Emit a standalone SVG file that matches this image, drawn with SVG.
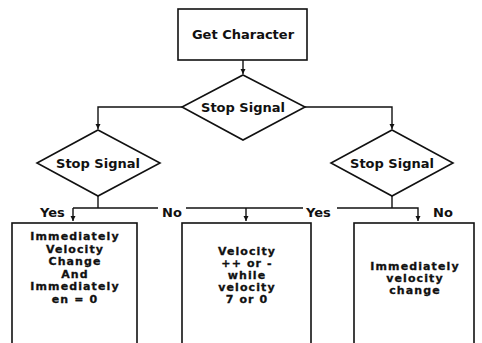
<svg xmlns="http://www.w3.org/2000/svg" width="482" height="343" viewBox="0 0 482 343">
<style>
.s{fill:#fff;stroke:#111;stroke-width:1.6}
.c{fill:none;stroke:#111;stroke-width:1.4}
text{font-family:"DejaVu Sans","Liberation Sans",sans-serif;font-weight:bold;font-size:13px;fill:#111;text-anchor:middle}
.l{text-anchor:start}
.b{font-size:11px;letter-spacing:1.1px;stroke:#111;stroke-width:0.3}
</style>
<defs>
<marker id="a" markerWidth="6" markerHeight="6" refX="5" refY="3" orient="auto" markerUnits="userSpaceOnUse">
<path d="M0,0.5 L5,3 L0,5.5 Z" fill="#111"/>
</marker>
</defs>
<rect width="482" height="343" fill="#fff"/>
<g id="connectors">
<path class="c" d="M243,60 V74" marker-end="url(#a)"/>
<path class="c" d="M183,107 H98 V129" marker-end="url(#a)"/>
<path class="c" d="M305,107 H392 V129" marker-end="url(#a)"/>
<path class="c" d="M98,196 V208"/>
<path class="c" d="M392,196 V208"/>
<path class="c" d="M73,208 H158"/>
<path class="c" d="M73,208 V221" marker-end="url(#a)"/>
<path class="c" d="M186,208 H303"/>
<path class="c" d="M246,208 V221" marker-end="url(#a)"/>
<path class="c" d="M337,208 H418 V221" marker-end="url(#a)"/>
<text class="l" x="40" y="217">Yes</text>
<text class="l" x="162" y="217">No</text>
<text class="l" x="306" y="217">Yes</text>
<text class="l" x="433" y="217">No</text>
</g>
<g id="get-character">
<rect class="s" x="178" y="9" width="129" height="51"/>
<text x="243" y="39">Get Character</text>
</g>
<g id="stop-signal-top">
<path class="s" d="M243,75 L305,107 L243,140 L182,107 Z"/>
<text x="243" y="112">Stop Signal</text>
</g>
<g id="stop-signal-left">
<path class="s" d="M98,130 L160,163 L98,196 L37,163 Z"/>
<text x="98" y="168">Stop Signal</text>
</g>
<g id="stop-signal-right">
<path class="s" d="M392,130 L453,163 L392,196 L331,163 Z"/>
<text x="392" y="168">Stop Signal</text>
</g>
<g id="box-left">
<rect class="s" x="12" y="223" width="125" height="130"/>
<text class="b" x="75" y="240">Immediately</text>
<text class="b" x="75" y="253">Velocity</text>
<text class="b" x="75" y="265">Change</text>
<text class="b" x="75" y="278">And</text>
<text class="b" x="75" y="290">Immediately</text>
<text class="b" x="75" y="303">en = 0</text>
</g>
<g id="box-middle">
<rect class="s" x="182" y="223" width="129" height="130"/>
<text class="b" x="247" y="255">Velocity</text>
<text class="b" x="247" y="267">++ or -</text>
<text class="b" x="247" y="279">while</text>
<text class="b" x="247" y="291">velocity</text>
<text class="b" x="247" y="303">7 or 0</text>
</g>
<g id="box-right">
<rect class="s" x="354" y="223" width="120" height="130"/>
<text class="b" x="415" y="270">Immediately</text>
<text class="b" x="415" y="282">velocity</text>
<text class="b" x="415" y="294">change</text>
</g>
</svg>
